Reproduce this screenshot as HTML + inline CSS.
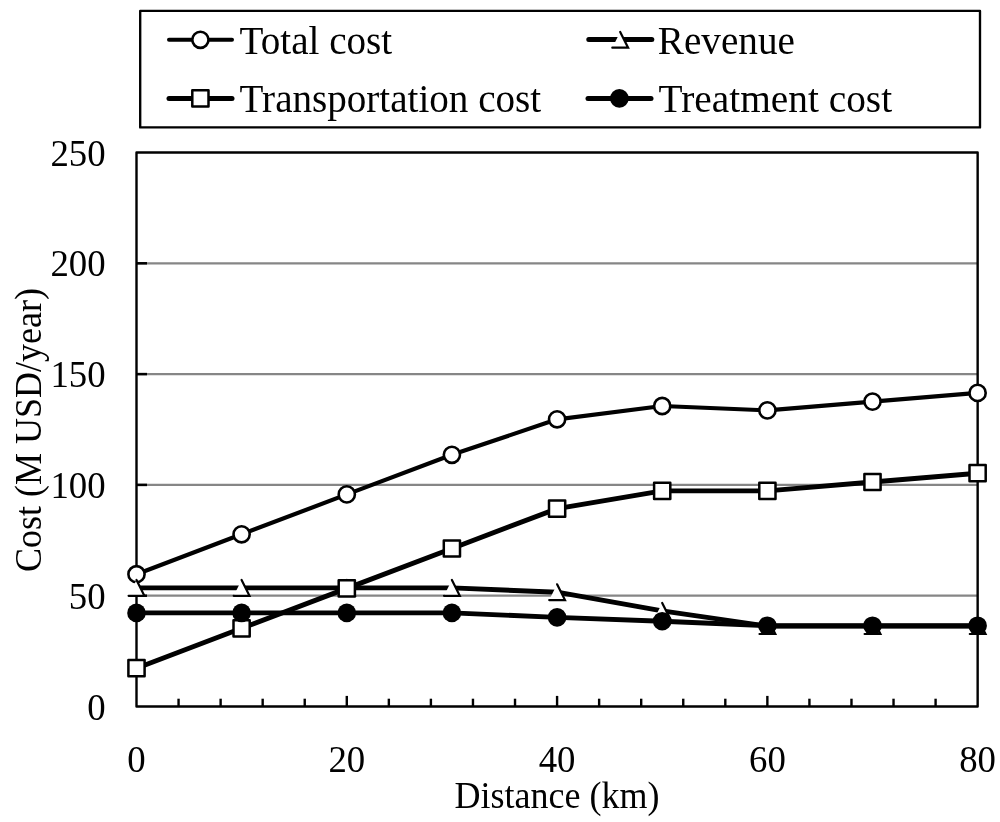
<!DOCTYPE html>
<html><head><meta charset="utf-8"><title>Cost vs Distance</title>
<style>
html,body{margin:0;padding:0;background:#fff;}
svg{display:block;will-change:transform;opacity:0.9999}
text{font-family:"Liberation Serif",serif;fill:#000;}
</style></head><body>
<svg width="1000" height="822" viewBox="0 0 1000 822">
<rect width="1000" height="822" fill="#fff"/>

<line x1="136.5" x2="977.65" y1="595.70" y2="595.70" stroke="#868686" stroke-width="2.3"/>
<line x1="136.5" x2="147.0" y1="595.70" y2="595.70" stroke="#000" stroke-width="2.5"/>
<line x1="136.5" x2="977.65" y1="484.90" y2="484.90" stroke="#868686" stroke-width="2.3"/>
<line x1="136.5" x2="147.0" y1="484.90" y2="484.90" stroke="#000" stroke-width="2.5"/>
<line x1="136.5" x2="977.65" y1="374.10" y2="374.10" stroke="#868686" stroke-width="2.3"/>
<line x1="136.5" x2="147.0" y1="374.10" y2="374.10" stroke="#000" stroke-width="2.5"/>
<line x1="136.5" x2="977.65" y1="263.30" y2="263.30" stroke="#868686" stroke-width="2.3"/>
<line x1="136.5" x2="147.0" y1="263.30" y2="263.30" stroke="#000" stroke-width="2.5"/>
<rect x="136.5" y="152.5" width="841.15" height="554.00" fill="none" stroke="#000" stroke-width="2.4" stroke-linejoin="round"/>
<line x1="178.56" x2="178.56" y1="706.5" y2="698.70" stroke="#000" stroke-width="2.4"/>
<line x1="220.62" x2="220.62" y1="706.5" y2="698.70" stroke="#000" stroke-width="2.4"/>
<line x1="262.67" x2="262.67" y1="706.5" y2="698.70" stroke="#000" stroke-width="2.4"/>
<line x1="304.73" x2="304.73" y1="706.5" y2="698.70" stroke="#000" stroke-width="2.4"/>
<line x1="346.79" x2="346.79" y1="706.5" y2="695.90" stroke="#000" stroke-width="2.4"/>
<line x1="388.84" x2="388.84" y1="706.5" y2="698.70" stroke="#000" stroke-width="2.4"/>
<line x1="430.90" x2="430.90" y1="706.5" y2="698.70" stroke="#000" stroke-width="2.4"/>
<line x1="472.96" x2="472.96" y1="706.5" y2="698.70" stroke="#000" stroke-width="2.4"/>
<line x1="515.02" x2="515.02" y1="706.5" y2="698.70" stroke="#000" stroke-width="2.4"/>
<line x1="557.08" x2="557.08" y1="706.5" y2="695.90" stroke="#000" stroke-width="2.4"/>
<line x1="599.13" x2="599.13" y1="706.5" y2="698.70" stroke="#000" stroke-width="2.4"/>
<line x1="641.19" x2="641.19" y1="706.5" y2="698.70" stroke="#000" stroke-width="2.4"/>
<line x1="683.25" x2="683.25" y1="706.5" y2="698.70" stroke="#000" stroke-width="2.4"/>
<line x1="725.31" x2="725.31" y1="706.5" y2="698.70" stroke="#000" stroke-width="2.4"/>
<line x1="767.36" x2="767.36" y1="706.5" y2="695.90" stroke="#000" stroke-width="2.4"/>
<line x1="809.42" x2="809.42" y1="706.5" y2="698.70" stroke="#000" stroke-width="2.4"/>
<line x1="851.48" x2="851.48" y1="706.5" y2="698.70" stroke="#000" stroke-width="2.4"/>
<line x1="893.53" x2="893.53" y1="706.5" y2="698.70" stroke="#000" stroke-width="2.4"/>
<line x1="935.59" x2="935.59" y1="706.5" y2="698.70" stroke="#000" stroke-width="2.4"/>
<text transform="translate(105.6,719.6) scale(1,1.03)" font-size="36.8" text-anchor="end">0</text>
<text transform="translate(105.6,608.8) scale(1,1.03)" font-size="36.8" text-anchor="end">50</text>
<text transform="translate(105.6,498.0) scale(1,1.03)" font-size="36.8" text-anchor="end">100</text>
<text transform="translate(105.6,387.2) scale(1,1.03)" font-size="36.8" text-anchor="end">150</text>
<text transform="translate(105.6,276.4) scale(1,1.03)" font-size="36.8" text-anchor="end">200</text>
<text transform="translate(105.6,165.6) scale(1,1.03)" font-size="36.8" text-anchor="end">250</text>
<text transform="translate(136.5,771.8) scale(1,1.03)" font-size="36.8" text-anchor="middle">0</text>
<text transform="translate(346.8,771.8) scale(1,1.03)" font-size="36.8" text-anchor="middle">20</text>
<text transform="translate(557.1,771.8) scale(1,1.03)" font-size="36.8" text-anchor="middle">40</text>
<text transform="translate(767.4,771.8) scale(1,1.03)" font-size="36.8" text-anchor="middle">60</text>
<text transform="translate(977.6,771.8) scale(1,1.03)" font-size="36.8" text-anchor="middle">80</text>
<text transform="translate(557,808.2) scale(1,1.03)" font-size="36" text-anchor="middle">Distance (km)</text>
<text transform="translate(40.7,430) rotate(-90) scale(1,1.04)" font-size="36" text-anchor="middle">Cost (M USD/year)</text>
<polyline points="136.5,574.2 241.6,534.3 346.8,494.4 451.9,454.8 557.1,419.3 662.2,406.0 767.4,410.4 872.5,401.6 977.6,392.9" fill="none" stroke="#000" stroke-width="4.2" stroke-linejoin="round"/>
<circle cx="136.5" cy="574.2" r="8.1" fill="#fff" stroke="#000" stroke-width="2.6"/>
<circle cx="241.6" cy="534.3" r="8.1" fill="#fff" stroke="#000" stroke-width="2.6"/>
<circle cx="346.8" cy="494.4" r="8.1" fill="#fff" stroke="#000" stroke-width="2.6"/>
<circle cx="451.9" cy="454.8" r="8.1" fill="#fff" stroke="#000" stroke-width="2.6"/>
<circle cx="557.1" cy="419.3" r="8.1" fill="#fff" stroke="#000" stroke-width="2.6"/>
<circle cx="662.2" cy="406.0" r="8.1" fill="#fff" stroke="#000" stroke-width="2.6"/>
<circle cx="767.4" cy="410.4" r="8.1" fill="#fff" stroke="#000" stroke-width="2.6"/>
<circle cx="872.5" cy="401.6" r="8.1" fill="#fff" stroke="#000" stroke-width="2.6"/>
<circle cx="977.6" cy="392.9" r="8.1" fill="#fff" stroke="#000" stroke-width="2.6"/>
<polyline points="136.5,587.9 241.6,587.9 346.8,587.9 451.9,587.9 557.1,592.2 662.2,610.8 767.4,626.1 872.5,626.1 977.6,626.1" fill="none" stroke="#000" stroke-width="4.9" stroke-linejoin="round"/>
<polygon points="136.5,580.0 144.4,595.8 128.6,595.8" fill="#fff"/><polyline points="136.5,580.0 144.4,595.8 128.6,595.8" fill="none" stroke="#000" stroke-width="2.2" stroke-linecap="round"/>
<polygon points="241.6,580.0 249.5,595.8 233.7,595.8" fill="#fff"/><polyline points="241.6,580.0 249.5,595.8 233.7,595.8" fill="none" stroke="#000" stroke-width="2.2" stroke-linecap="round"/>
<polygon points="346.8,580.0 354.7,595.8 338.9,595.8" fill="#fff"/><polyline points="346.8,580.0 354.7,595.8 338.9,595.8" fill="none" stroke="#000" stroke-width="2.2" stroke-linecap="round"/>
<polygon points="451.9,580.0 459.8,595.8 444.0,595.8" fill="#fff"/><polyline points="451.9,580.0 459.8,595.8 444.0,595.8" fill="none" stroke="#000" stroke-width="2.2" stroke-linecap="round"/>
<polygon points="557.1,584.3 565.0,600.1 549.2,600.1" fill="#fff"/><polyline points="557.1,584.3 565.0,600.1 549.2,600.1" fill="none" stroke="#000" stroke-width="2.2" stroke-linecap="round"/>
<polygon points="662.2,602.9 670.1,618.7 654.3,618.7" fill="#fff"/><polyline points="662.2,602.9 670.1,618.7 654.3,618.7" fill="none" stroke="#000" stroke-width="2.2" stroke-linecap="round"/>
<polygon points="767.4,618.2 775.3,634.0 759.5,634.0" fill="#fff"/><polyline points="767.4,618.2 775.3,634.0 759.5,634.0" fill="none" stroke="#000" stroke-width="2.2" stroke-linecap="round"/>
<polygon points="872.5,618.2 880.4,634.0 864.6,634.0" fill="#fff"/><polyline points="872.5,618.2 880.4,634.0 864.6,634.0" fill="none" stroke="#000" stroke-width="2.2" stroke-linecap="round"/>
<polygon points="977.6,618.2 985.5,634.0 969.8,634.0" fill="#fff"/><polyline points="977.6,618.2 985.5,634.0 969.8,634.0" fill="none" stroke="#000" stroke-width="2.2" stroke-linecap="round"/>
<polyline points="136.5,668.2 241.6,628.3 346.8,588.4 451.9,548.5 557.1,508.6 662.2,490.9 767.4,490.9 872.5,482.0 977.6,473.2" fill="none" stroke="#000" stroke-width="4.9" stroke-linejoin="round"/>
<rect x="128.4" y="660.1" width="16.2" height="16.2" fill="#fff" stroke="#000" stroke-width="2.5" stroke-linejoin="round"/>
<rect x="233.5" y="620.2" width="16.2" height="16.2" fill="#fff" stroke="#000" stroke-width="2.5" stroke-linejoin="round"/>
<rect x="338.7" y="580.3" width="16.2" height="16.2" fill="#fff" stroke="#000" stroke-width="2.5" stroke-linejoin="round"/>
<rect x="443.8" y="540.4" width="16.2" height="16.2" fill="#fff" stroke="#000" stroke-width="2.5" stroke-linejoin="round"/>
<rect x="549.0" y="500.5" width="16.2" height="16.2" fill="#fff" stroke="#000" stroke-width="2.5" stroke-linejoin="round"/>
<rect x="654.1" y="482.8" width="16.2" height="16.2" fill="#fff" stroke="#000" stroke-width="2.5" stroke-linejoin="round"/>
<rect x="759.3" y="482.8" width="16.2" height="16.2" fill="#fff" stroke="#000" stroke-width="2.5" stroke-linejoin="round"/>
<rect x="864.4" y="473.9" width="16.2" height="16.2" fill="#fff" stroke="#000" stroke-width="2.5" stroke-linejoin="round"/>
<rect x="969.5" y="465.1" width="16.2" height="16.2" fill="#fff" stroke="#000" stroke-width="2.5" stroke-linejoin="round"/>
<polyline points="136.5,612.9 241.6,612.9 346.8,612.9 451.9,612.9 557.1,617.4 662.2,621.2 767.4,625.7 872.5,625.7 977.6,625.7" fill="none" stroke="#000" stroke-width="4.9" stroke-linejoin="round"/>
<circle cx="136.5" cy="612.9" r="9.3" fill="#000"/>
<circle cx="241.6" cy="612.9" r="9.3" fill="#000"/>
<circle cx="346.8" cy="612.9" r="9.3" fill="#000"/>
<circle cx="451.9" cy="612.9" r="9.3" fill="#000"/>
<circle cx="557.1" cy="617.4" r="9.3" fill="#000"/>
<circle cx="662.2" cy="621.2" r="9.3" fill="#000"/>
<circle cx="767.4" cy="625.7" r="9.3" fill="#000"/>
<circle cx="872.5" cy="625.7" r="9.3" fill="#000"/>
<circle cx="977.6" cy="625.7" r="9.3" fill="#000"/>
<rect x="140.2" y="10.9" width="839.8" height="116.5" fill="#fff" stroke="#000" stroke-width="2.35" stroke-linejoin="round"/>
<line x1="169" x2="232" y1="39.8" y2="39.8" stroke="#000" stroke-width="4" stroke-linecap="round"/>
<circle cx="200.4" cy="39.8" r="8.1" fill="#fff" stroke="#000" stroke-width="2.6"/>
<text transform="translate(239.6,53.7) scale(1,1.03)" font-size="39.1">Total cost</text>
<line x1="169" x2="232" y1="98.4" y2="98.4" stroke="#000" stroke-width="5" stroke-linecap="round"/>
<rect x="192.3" y="90.3" width="16.2" height="16.2" fill="#fff" stroke="#000" stroke-width="2.5" stroke-linejoin="round"/>
<text transform="translate(239.6,112.3) scale(1,1.03)" font-size="39.1">Transportation cost</text>
<line x1="588.8" x2="651.8" y1="39.6" y2="39.6" stroke="#000" stroke-width="5" stroke-linecap="round"/>
<polygon points="620.2,31.9 628.1,47.7 612.3,47.7" fill="#fff"/><polyline points="620.2,31.9 628.1,47.7 612.3,47.7" fill="none" stroke="#000" stroke-width="2.2" stroke-linecap="round"/>
<text transform="translate(657.8,53.5) scale(1,1.03)" font-size="39.2">Revenue</text>
<line x1="588" x2="651" y1="98.4" y2="98.4" stroke="#000" stroke-width="5" stroke-linecap="round"/>
<circle cx="619.4" cy="98.4" r="9.3" fill="#000"/>
<text transform="translate(658.6,112.3) scale(1,1.03)" font-size="39.35">Treatment cost</text>
</svg></body></html>
